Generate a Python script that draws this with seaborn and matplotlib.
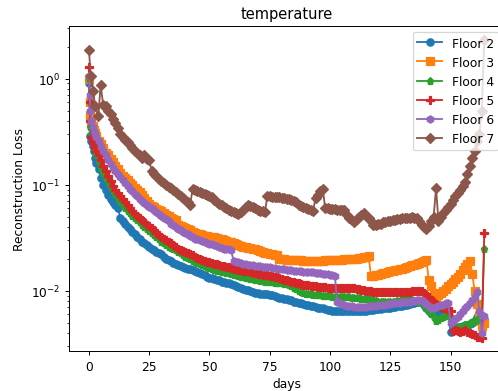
import matplotlib
matplotlib.use("Agg")
import matplotlib.pyplot as plt
import seaborn as sns

# day grid shared by floors 2-6 (dense first day, then daily)
days = [0, 0.3, 0.6, 1, 1.5, 2, 2.5, 3, 4, 5, 6, 7, 8, 9, 10, 11, 12, 13] + list(range(14, 165))
days_floor7 = [0, 0.7, 1.8, 2.5, 3.9, 4.8, 5.9, 7, 8, 9, 10, 11, 12, 13] + list(range(14, 165))

loss_floor2 = [0.90, 0.42, 0.29, 0.26, 0.23, 0.21, 0.18, 0.16, 0.14, 0.115, 0.10, 0.09, 0.08, 0.074, 0.068, 0.064, 0.060, 0.049,
    0.045, 0.0425, 0.040, 0.038, 0.036, 0.034, 0.032, 0.0305, 0.029, 0.028,
    0.027, 0.026, 0.025, 0.024, 0.023, 0.0225, 0.022, 0.021, 0.020, 0.0195,
    0.019, 0.0184, 0.0178, 0.0174, 0.017, 0.0167, 0.0165, 0.0162, 0.016, 0.0157,
    0.0155, 0.0151, 0.0148, 0.0144, 0.014, 0.0136, 0.0133, 0.0131, 0.013, 0.0127,
    0.0125, 0.0122, 0.012, 0.0118, 0.0117, 0.0115, 0.0113, 0.011, 0.0108, 0.0106,
    0.0104, 0.0102, 0.0101, 0.0099, 0.0098, 0.0096, 0.0095, 0.0094, 0.0094, 0.0093,
    0.0093, 0.0092, 0.0091, 0.0089, 0.0088, 0.0086, 0.0085, 0.0084, 0.0083, 0.0082,
    0.0081, 0.0079, 0.0078, 0.0077, 0.0076, 0.0075, 0.0074, 0.0073, 0.0072, 0.0071,
    0.0070, 0.0069, 0.0069, 0.0068, 0.0067, 0.0066, 0.0066, 0.0065, 0.0065, 0.0065,
    0.0065, 0.0065, 0.0065, 0.0065, 0.0065, 0.0065, 0.0065, 0.0065, 0.0065, 0.0065,
    0.0065, 0.0065, 0.0066, 0.0066, 0.0066, 0.0067, 0.0067, 0.0067, 0.0068, 0.0068,
    0.0069, 0.0069, 0.0070, 0.0070, 0.0071, 0.0071, 0.0072, 0.0073, 0.0074, 0.0075,
    0.0076, 0.0077, 0.0078, 0.0079, 0.0080, 0.0074, 0.0068, 0.0065, 0.0062, 0.0060,
    0.0058, 0.0059, 0.0061, 0.0063, 0.0064, 0.0065, 0.0041, 0.0042, 0.0043, 0.0044,
    0.0045, 0.0046, 0.0047, 0.0048, 0.0049, 0.0050, 0.0052, 0.0057, 0.0062, 0.0058,
    0.0054]

loss_floor3 = [1.0, 0.6, 0.45, 0.4, 0.36, 0.33, 0.31, 0.29, 0.26, 0.24, 0.22, 0.2, 0.19, 0.175, 0.162, 0.15, 0.14, 0.13,
    0.122, 0.116, 0.11, 0.104, 0.099, 0.094, 0.09, 0.085, 0.08, 0.075,
    0.07, 0.066, 0.063, 0.061, 0.059, 0.0575, 0.056, 0.054, 0.052, 0.0505,
    0.049, 0.0475, 0.046, 0.042, 0.041, 0.040, 0.039, 0.038, 0.037, 0.036,
    0.035, 0.0345, 0.034, 0.0335, 0.033, 0.0325, 0.032, 0.032, 0.032, 0.0315,
    0.031, 0.0305, 0.030, 0.0295, 0.029, 0.0285, 0.028, 0.0275, 0.027, 0.0265,
    0.026, 0.0258, 0.0255, 0.0252, 0.025, 0.0245, 0.024, 0.0235, 0.023, 0.0228,
    0.0225, 0.0222, 0.022, 0.0219, 0.0218, 0.0199, 0.0198, 0.0197, 0.0196, 0.0195,
    0.0195, 0.0194, 0.0194, 0.0193, 0.0193, 0.0192, 0.0192, 0.0192, 0.0192, 0.0192,
    0.0192, 0.0192, 0.0192, 0.0192, 0.0193, 0.0193, 0.0194, 0.0194, 0.0195, 0.0195,
    0.0196, 0.0196, 0.0197, 0.0197, 0.0198, 0.0199, 0.0200, 0.0201, 0.0203, 0.0205,
    0.0207, 0.0209, 0.0212, 0.0139, 0.0139, 0.0140, 0.0142, 0.0144, 0.0146, 0.0148,
    0.0150, 0.0152, 0.0154, 0.0156, 0.0158, 0.0160, 0.0162, 0.0164, 0.0167, 0.0170,
    0.0173, 0.0176, 0.0180, 0.0183, 0.0186, 0.0190, 0.0195, 0.0125, 0.0110, 0.0095,
    0.0088, 0.0091, 0.0095, 0.0099, 0.0104, 0.0110, 0.0115, 0.0121, 0.0128, 0.0136,
    0.0145, 0.0156, 0.0168, 0.0180, 0.0190, 0.0145, 0.0100, 0.0075, 0.0058, 0.0046,
    0.0050]

loss_floor4 = [1.0, 0.6, 0.35, 0.3, 0.26, 0.23, 0.21, 0.19, 0.165, 0.145, 0.13, 0.115, 0.105, 0.096, 0.088, 0.081, 0.075, 0.069,
    0.064, 0.060, 0.057, 0.054, 0.051, 0.048, 0.046, 0.044, 0.042, 0.040,
    0.038, 0.0365, 0.035, 0.0335, 0.032, 0.0305, 0.029, 0.028, 0.027, 0.026,
    0.0255, 0.0248, 0.024, 0.0232, 0.0225, 0.0218, 0.021, 0.0204, 0.0198, 0.0192,
    0.0187, 0.0182, 0.0177, 0.0173, 0.017, 0.0166, 0.0163, 0.016, 0.0158, 0.0155,
    0.0153, 0.0151, 0.015, 0.0148, 0.0146, 0.0144, 0.0142, 0.014, 0.0138, 0.0136,
    0.0135, 0.0133, 0.0132, 0.013, 0.0128, 0.0126, 0.0125, 0.0124, 0.0123, 0.0122,
    0.0121, 0.0120, 0.0120, 0.0119, 0.0119, 0.0118, 0.0118, 0.0116, 0.0115, 0.0112,
    0.0110, 0.0106, 0.0103, 0.0100, 0.0097, 0.0095, 0.0094, 0.0093, 0.0093, 0.0092,
    0.0092, 0.0091, 0.0091, 0.0090, 0.0090, 0.0089, 0.0089, 0.0088, 0.0088, 0.0088,
    0.0088, 0.0087, 0.0087, 0.0087, 0.0087, 0.0086, 0.0086, 0.0085, 0.0085, 0.0084,
    0.0084, 0.0083, 0.0083, 0.0082, 0.0081, 0.0080, 0.0079, 0.0078, 0.0078, 0.0078,
    0.0078, 0.0078, 0.0079, 0.0079, 0.0080, 0.0080, 0.0081, 0.0081, 0.0081, 0.0081,
    0.0081, 0.0080, 0.0080, 0.0079, 0.0078, 0.0074, 0.0069, 0.0064, 0.0060, 0.0056,
    0.0052, 0.0053, 0.0055, 0.0057, 0.0058, 0.0058, 0.0057, 0.0050, 0.0046, 0.0045,
    0.0045, 0.0046, 0.0047, 0.0048, 0.0050, 0.0051, 0.0052, 0.0053, 0.0055, 0.0058,
    0.0247]

loss_floor5 = [1.3, 0.6, 0.4, 0.28, 0.26, 0.24, 0.225, 0.21, 0.19, 0.17, 0.15, 0.135, 0.12, 0.108, 0.098, 0.09, 0.083, 0.078,
    0.073, 0.068, 0.064, 0.060, 0.056, 0.053, 0.051, 0.048, 0.046, 0.044,
    0.042, 0.0405, 0.039, 0.037, 0.035, 0.0335, 0.032, 0.031, 0.030, 0.029,
    0.028, 0.027, 0.026, 0.025, 0.024, 0.0235, 0.023, 0.0225, 0.022, 0.0215,
    0.021, 0.0205, 0.020, 0.0195, 0.019, 0.0187, 0.0185, 0.0182, 0.018, 0.0177,
    0.0175, 0.0172, 0.017, 0.0168, 0.0166, 0.0164, 0.0162, 0.016, 0.0158, 0.0156,
    0.0155, 0.0153, 0.0152, 0.015, 0.0148, 0.0146, 0.0145, 0.0143, 0.0142, 0.0141,
    0.0140, 0.0139, 0.0138, 0.0136, 0.0135, 0.0132, 0.0130, 0.0127, 0.0125, 0.0123,
    0.0122, 0.0120, 0.0118, 0.0117, 0.0116, 0.0114, 0.0113, 0.0112, 0.0111, 0.0110,
    0.0110, 0.0109, 0.0109, 0.0108, 0.0108, 0.0107, 0.0107, 0.0107, 0.0107, 0.0106,
    0.0106, 0.0106, 0.0106, 0.0105, 0.0105, 0.0105, 0.0105, 0.0104, 0.0103, 0.0102,
    0.0101, 0.0100, 0.0099, 0.0099, 0.0098, 0.0098, 0.0098, 0.0098, 0.0098, 0.0098,
    0.0098, 0.0097, 0.0097, 0.0097, 0.0097, 0.0097, 0.0098, 0.0098, 0.0098, 0.0098,
    0.0099, 0.0099, 0.0099, 0.0099, 0.0099, 0.0096, 0.0092, 0.0087, 0.0082, 0.0078,
    0.0075, 0.0072, 0.0070, 0.0069, 0.0068, 0.0066, 0.0065, 0.0042, 0.0043, 0.0042,
    0.0041, 0.0042, 0.0043, 0.0041, 0.0040, 0.0039, 0.0038, 0.0037, 0.0037, 0.0036,
    0.035]

loss_floor6 = [1.05, 0.7, 0.5, 0.4, 0.35, 0.32, 0.30, 0.28, 0.26, 0.23, 0.21, 0.19, 0.17, 0.155, 0.145, 0.135, 0.125, 0.117,
    0.110, 0.104, 0.098, 0.092, 0.087, 0.082, 0.078, 0.074, 0.070, 0.067,
    0.064, 0.062, 0.060, 0.0575, 0.055, 0.053, 0.051, 0.049, 0.047, 0.045,
    0.043, 0.0415, 0.040, 0.0385, 0.037, 0.036, 0.035, 0.034, 0.033, 0.032,
    0.031, 0.0305, 0.030, 0.0295, 0.029, 0.0283, 0.0277, 0.0273, 0.027, 0.0265,
    0.026, 0.0255, 0.025, 0.0248, 0.0245, 0.0242, 0.019, 0.0187, 0.0185, 0.0182,
    0.0180, 0.0177, 0.0175, 0.0174, 0.0173, 0.0172, 0.0171, 0.0170, 0.0169, 0.0168,
    0.0167, 0.0166, 0.0165, 0.0163, 0.0162, 0.0161, 0.0160, 0.0159, 0.0158, 0.0157,
    0.0156, 0.0155, 0.0154, 0.0153, 0.0152, 0.0151, 0.0150, 0.0150, 0.0149, 0.0149,
    0.0148, 0.0147, 0.0146, 0.0145, 0.0144, 0.0143, 0.0141, 0.0140, 0.0139, 0.0078,
    0.0076, 0.0075, 0.0073, 0.0072, 0.0071, 0.0071, 0.0070, 0.0070, 0.0070, 0.0070,
    0.0070, 0.0070, 0.0071, 0.0071, 0.0072, 0.0072, 0.0073, 0.0073, 0.0074, 0.0074,
    0.0075, 0.0075, 0.0076, 0.0076, 0.0077, 0.0077, 0.0078, 0.0078, 0.0079, 0.0079,
    0.0080, 0.0080, 0.0081, 0.0081, 0.0082, 0.0078, 0.0075, 0.0071, 0.0068, 0.0069,
    0.0070, 0.0071, 0.0073, 0.0074, 0.0076, 0.0076, 0.0050, 0.0052, 0.0054, 0.0057,
    0.0060, 0.0064, 0.0068, 0.0072, 0.0076, 0.0082, 0.0088, 0.0098, 0.0065, 0.0040,
    0.0058]

loss_floor7 = [1.86, 1.06, 0.76, 0.55, 0.44, 0.87, 0.57, 0.55, 0.5, 0.46, 0.42, 0.38, 0.34, 0.3,
    0.28, 0.265, 0.25, 0.235, 0.22, 0.21, 0.2, 0.19, 0.18, 0.19,
    0.175, 0.17, 0.135, 0.127, 0.12, 0.114, 0.108, 0.103, 0.099, 0.096,
    0.094, 0.09, 0.086, 0.082, 0.078, 0.075, 0.072, 0.068, 0.065, 0.091,
    0.089, 0.087, 0.085, 0.083, 0.082, 0.08, 0.079, 0.076, 0.072, 0.069,
    0.066, 0.064, 0.062, 0.06, 0.058, 0.057, 0.055, 0.054, 0.053, 0.055,
    0.058, 0.061, 0.064, 0.063, 0.062, 0.06, 0.058, 0.057, 0.056, 0.055,
    0.078, 0.078, 0.077, 0.077, 0.076, 0.076, 0.075, 0.075, 0.074, 0.073,
    0.072, 0.07, 0.068, 0.065, 0.063, 0.061, 0.06, 0.059, 0.058, 0.057,
    0.075, 0.08, 0.088, 0.091, 0.06, 0.06, 0.059, 0.059, 0.059, 0.058,
    0.058, 0.058, 0.058, 0.052, 0.048, 0.046, 0.044, 0.047, 0.05, 0.052,
    0.054, 0.051, 0.048, 0.045, 0.042, 0.042, 0.043, 0.043, 0.044, 0.044,
    0.045, 0.045, 0.046, 0.046, 0.047, 0.047, 0.048, 0.048, 0.049, 0.049,
    0.05, 0.049, 0.048, 0.045, 0.042, 0.04, 0.038, 0.041, 0.045, 0.05,
    0.093, 0.045, 0.05, 0.054, 0.058, 0.062, 0.066, 0.072, 0.078, 0.084,
    0.09, 0.097, 0.105, 0.125, 0.15, 0.18, 0.21, 0.26, 0.3, 0.5,
    2.3]

labels = ["Floor 2", "Floor 3", "Floor 4", "Floor 5", "Floor 6", "Floor 7"]

series = [
    (labels[0], days, loss_floor2, "o", "#1f77b4"),
    (labels[1], days, loss_floor3, "s", "#ff7f0e"),
    (labels[2], days, loss_floor4, "p", "#2ca02c"),
    (labels[3], days, loss_floor5, "P", "#d62728"),
    (labels[4], days, loss_floor6, "h", "#9467bd"),
    (labels[5], days_floor7, loss_floor7, "D", "#8c564b"),
]

fig = plt.figure(figsize=(498 / 88, 392 / 88), dpi=88)
ax = fig.add_axes([0.139, 0.102, 0.875, 0.830])

for name, x, y, mk, col in series:
    sns.lineplot(x=x, y=y, ax=ax, marker=mk, color=col, label=name,
                 markersize=6, markeredgecolor=col, markeredgewidth=1,
                 linewidth=1.5, estimator=None, sort=False)

ax.set_yscale("log")
ax.set_xlim(-8.2, 172.6)
ax.set_ylim(0.0027, 3.16)
ax.set_title("temperature")
ax.set_xlabel("days")
ax.set_ylabel("Reconstruction Loss")
ax.legend(loc="upper right")

fig.savefig("out.png", dpi=88)
